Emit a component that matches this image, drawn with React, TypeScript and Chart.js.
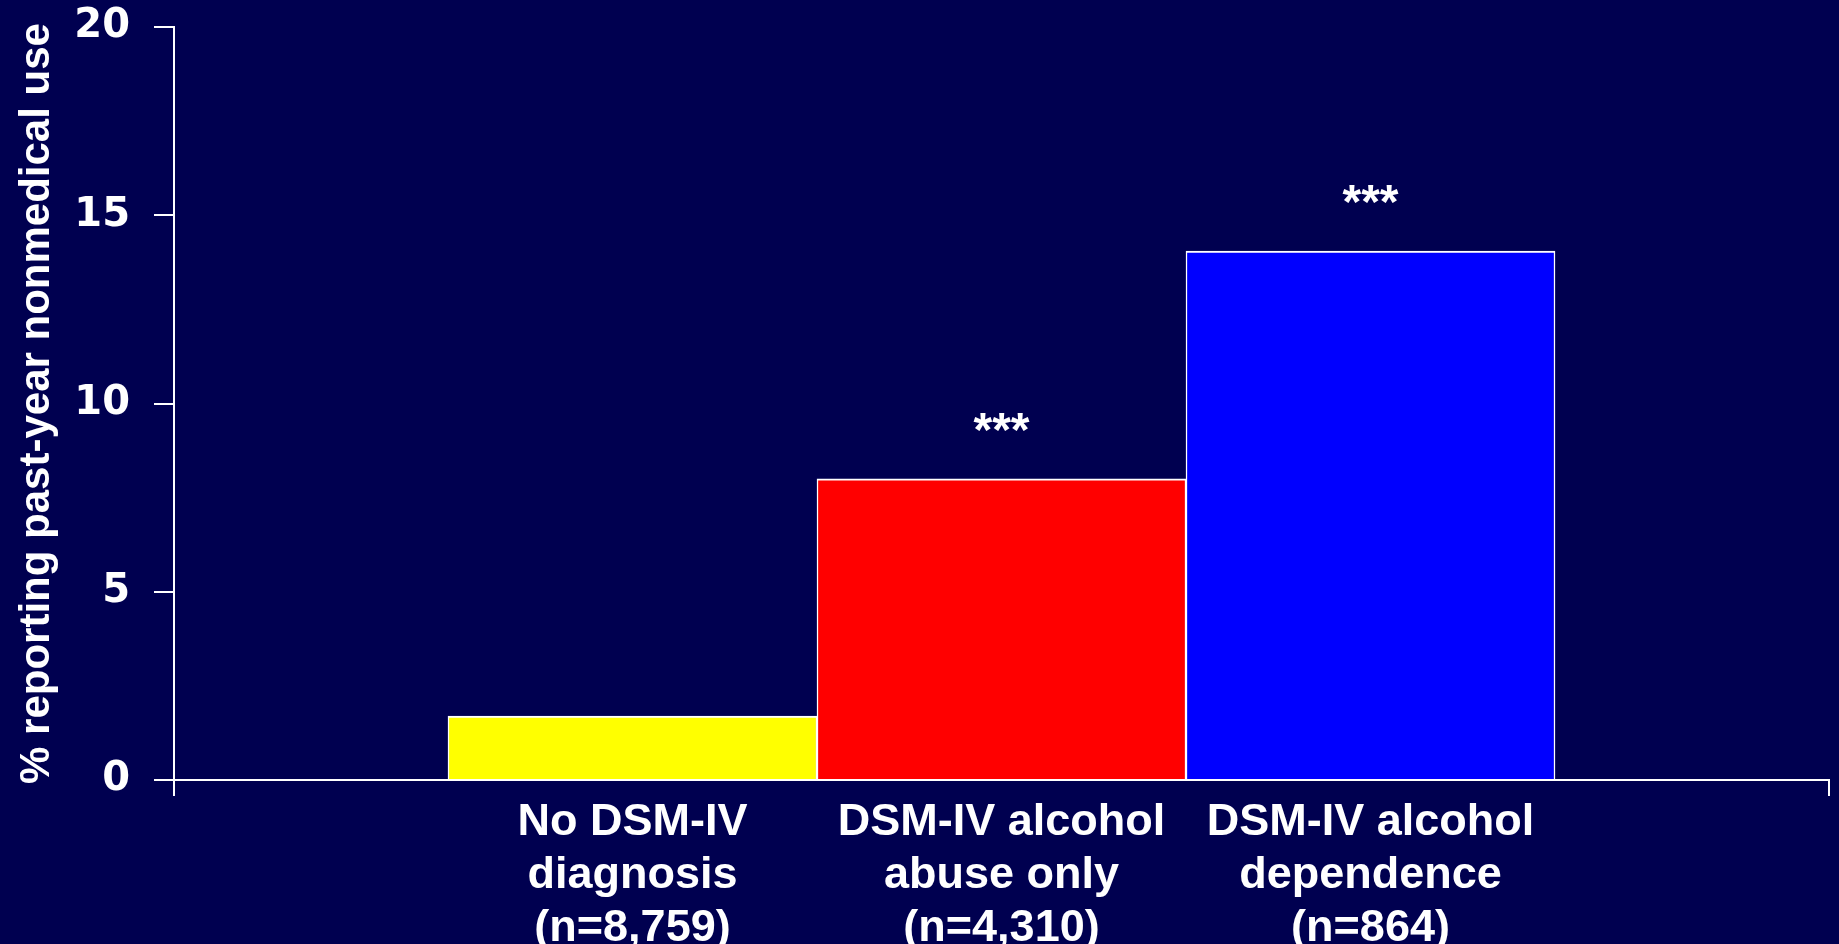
import { useEffect, useRef } from 'react';
import { Chart, registerables } from 'chart.js';

Chart.register(...registerables);

// ---- Data ----
const categories: string[][] = [
  ['No DSM-IV', 'diagnosis', '(n=8,759)'],
  ['DSM-IV alcohol', 'abuse only', '(n=4,310)'],
  ['DSM-IV alcohol', 'dependence', '(n=864)'],
];
const positions = [1, 2, 3];
const values = [1.7, 8.0, 14.05];
const significance = ['', '***', '***'];
const barColors = ['#FFFF00', '#FF0000', '#0000FF'];
const yTicks = [0, 5, 10, 15, 20];
const yTitle = '% reporting past-year nonmedical use';
const X_MIN = -0.2425;
const X_MAX = 4.2425;

const BG = '#000050';
const WHITE = '#FFFFFF';

const bgPlugin = {
  id: 'bgFill',
  beforeDraw(chart: any) {
    const { ctx, width, height } = chart;
    ctx.save();
    ctx.fillStyle = BG;
    ctx.fillRect(0, 0, width, height);
    ctx.restore();
  },
};

const sigPlugin = {
  id: 'sigMarks',
  afterDatasetsDraw(chart: any) {
    const meta = chart.getDatasetMeta(0);
    const ctx = chart.ctx;
    ctx.save();
    ctx.fillStyle = WHITE;
    ctx.font = 'bold 48px "Liberation Sans", Arial';
    ctx.textAlign = 'center';
    ctx.textBaseline = 'alphabetic';
    meta.data.forEach((bar: any, i: number) => {
      if (significance[i]) ctx.fillText(significance[i], bar.x, bar.y - 33);
    });
    ctx.restore();
  },
};

export default function App() {
  const ref = useRef<HTMLCanvasElement | null>(null);

  useEffect(() => {
    document.body.style.margin = '0';
    document.body.style.background = BG;
    const canvas = ref.current;
    if (!canvas) return;
    const chart = new Chart(canvas, {
      type: 'bar',
      data: {
        datasets: [
          {
            data: positions.map((x, i) => ({ x, y: values[i] })) as any,
            backgroundColor: barColors,
            borderColor: WHITE,
            borderWidth: { top: 2, left: 1.5, right: 1.5, bottom: 0 } as any,
            categoryPercentage: 1,
            barPercentage: 1,
          },
        ],
      },
      options: {
        animation: false,
        responsive: false,
        maintainAspectRatio: false,
        layout: { padding: { top: 27, right: 10, left: 0, bottom: 0 } },
        plugins: {
          legend: { display: false },
          tooltip: { enabled: false },
        },
        scales: {
          x: {
            type: 'linear',
            min: X_MIN,
            max: X_MAX,
            offset: false,
            afterBuildTicks: (s: any) => {
              s.ticks = [X_MIN, ...positions, X_MAX].map((v) => ({ value: v }));
            },
            afterFit: (s: any) => {
              s.height = 164;
              s.paddingLeft = 0;
              s.paddingRight = 0;
            },
            grid: {
              display: true,
              offset: false,
              drawOnChartArea: false,
              drawTicks: true,
              tickLength: 16,
              lineWidth: 2,
              color: (c: any) =>
                c.index === 0 || c.index === positions.length + 1 ? WHITE : 'rgba(0,0,0,0)',
            },
            border: { display: true, color: WHITE, width: 2 },
            ticks: {
              autoSkip: false,
              maxRotation: 0,
              minRotation: 0,
              color: WHITE,
              padding: 0,
              font: { family: '"Liberation Sans", Arial', size: 45, weight: 'bold', lineHeight: 1.18 },
              callback: (v: any) => {
                const i = positions.indexOf(Number(v));
                return i >= 0 ? categories[i] : '';
              },
            },
          },
          y: {
            min: 0,
            max: 20,
            afterBuildTicks: (s: any) => {
              s.ticks = yTicks.map((v) => ({ value: v }));
            },
            afterFit: (s: any) => {
              s.width = 174;
              s.paddingTop = 0;
              s.paddingBottom = 0;
            },
            grid: {
              display: true,
              drawOnChartArea: false,
              drawTicks: true,
              tickLength: 20,
              lineWidth: 2,
              color: WHITE,
            },
            border: { display: true, color: WHITE, width: 2 },
            ticks: {
              color: WHITE,
              padding: 24,
              font: { family: '"DejaVu Sans"', size: 40, weight: 'bold' },
            },
            title: {
              display: true,
              text: yTitle,
              color: WHITE,
              font: {
                family: '"Liberation Sans", Arial',
                size: 42,
                weight: 'bold',
                lineHeight: 1,
              },
              padding: { top: 16, bottom: 0 },
            },
          },
        },
      } as any,
      plugins: [bgPlugin, sigPlugin],
    });
    return () => chart.destroy();
  }, []);

  return (
    <canvas
      ref={ref}
      width={1839}
      height={944}
      style={{ display: 'block', width: 1839, height: 944 }}
    />
  );
}
